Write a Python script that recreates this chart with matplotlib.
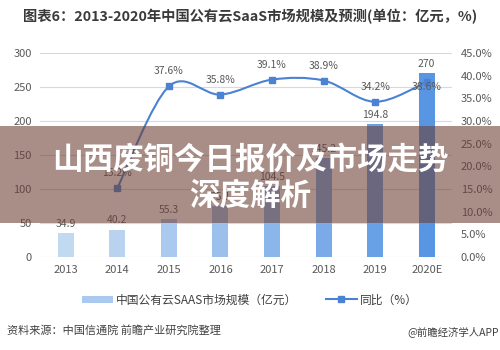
import matplotlib
matplotlib.use("Agg")
import matplotlib.pyplot as plt
from matplotlib.patches import Rectangle, PathPatch
from matplotlib.path import Path
from matplotlib.lines import Line2D
from matplotlib.patches import Patch

plt.rcParams['font.family'] = ['Noto Sans CJK SC', 'DejaVu Sans']

years = ["2013", "2014", "2015", "2016", "2017", "2018", "2019", "2020E"]
market_size = [34.9, 40.2, 55.3, 75.1, 104.5, 145.2, 194.8, 270]
growth_years = [1, 2, 3, 4, 5, 6, 7]
growth = [15.2, 37.6, 35.8, 39.1, 38.9, 34.2, 38.6]
bar_colors = ["#c2d9f2", "#b8d2f0", "#a9c9ee", "#9bc0ec", "#8bb6ea",
              "#7aabe8", "#69a1e6", "#5896e3"]

line_color = "#4b82d2"
tick_color = "#595959"

fig = plt.figure(figsize=(5, 3.5), dpi=100)
ax = fig.add_axes([0.08, 0.266, 0.825, 0.583])
ax2 = ax.twinx()

x = list(range(len(years)))
ax.bar(x, market_size, width=0.31, color=bar_colors, zorder=2)
for xi, v in zip(x, market_size):
    ax.text(xi, v + 6, f"{v:g}", ha="center", va="bottom", fontsize=7.5,
            color=tick_color, zorder=3)

ax.set_ylim(0, 300)
ax.set_yticks(range(0, 301, 50))
ax.set_xlim(-0.5, 7.5)
ax.set_xticks(x)
ax.set_xticklabels(years)
ax.yaxis.grid(True, color="#d9d9d9", linewidth=0.8, zorder=0)
ax.set_axisbelow(True)
for s in ax.spines.values():
    s.set_visible(False)
for s in ax2.spines.values():
    s.set_visible(False)
ax.tick_params(length=0, labelsize=8, colors=tick_color, pad=6)

ax2.set_ylim(0, 45)
ax2.set_yticks(range(0, 46, 5))
ax2.set_yticklabels([f"{v:.1f}%" for v in range(0, 46, 5)])
ax2.tick_params(length=0, labelsize=8, colors=tick_color, pad=6)

# smooth growth line drawn as bezier path through the data points
pts = list(zip(growth_years, growth))
verts = [pts[0]]
codes = [Path.MOVETO]
t = 1 / 6
for i in range(len(pts) - 1):
    p0 = pts[i - 1] if i > 0 else pts[i]
    p1 = pts[i]
    p2 = pts[i + 1]
    p3 = pts[i + 2] if i + 2 < len(pts) else pts[i + 1]
    c1 = (p1[0] + (p2[0] - p0[0]) * t, p1[1] + (p2[1] - p0[1]) * t)
    c2 = (p2[0] - (p3[0] - p1[0]) * t, p2[1] - (p3[1] - p1[1]) * t)
    verts += [c1, c2, p2]
    codes += [Path.CURVE4] * 3
ax2.add_patch(PathPatch(Path(verts, codes), facecolor="none",
                        edgecolor=line_color, linewidth=1.5, zorder=4))
ax2.plot(growth_years, growth, linestyle="none", marker="s", markersize=5,
         color=line_color, zorder=5)
for xi, v in zip(growth_years, growth):
    if xi == growth_years[-1]:
        ax2.text(xi, v - 1.2, f"{v:.1f}%", ha="center", va="center",
                 fontsize=7.5, color=tick_color, zorder=6)
    else:
        ax2.text(xi, v + 2.2, f"{v:.1f}%", ha="center", va="bottom",
                 fontsize=7.5, color=tick_color, zorder=6)

fig.text(0.5, 0.952, "图表6：2013-2020年中国公有云SaaS市场规模及预测(单位：亿元，%)",
         ha="center", va="center", fontsize=10.3, fontweight="bold", color="#3a3a3a")

handles = [Patch(facecolor="#a9c9ee"),
           Line2D([0], [0], color=line_color, marker="s", markersize=5, linewidth=1.5)]
fig.legend(handles, ["中国公有云SAAS市场规模（亿元）", "同比（%）"],
           loc="center", bbox_to_anchor=(0.5, 0.143), ncol=2, frameon=False,
           fontsize=8.5, labelcolor="#404040", handlelength=2.6,
           handleheight=0.6, columnspacing=2.4, handletextpad=0.3)

fig.text(0.014, 0.055, "资料来源：中国信通院 前瞻产业研究院整理", ha="left",
         va="center", fontsize=8, color="#404040")
fig.text(0.997, 0.052, "@前瞻经济学人APP", ha="right", va="center",
         fontsize=7.5, color="#404040")

# overlay banner
fig.add_artist(Rectangle((0, 1 - 223 / 350), 1, 97 / 350, transform=fig.transFigure,
                         facecolor=(0.42, 0.24, 0.2), alpha=0.58, edgecolor="none",
                         zorder=10))
fig.text(0.5, 1 - 160 / 350, "山西废铜今日报价及市场走势", ha="center", va="center",
         fontsize=22, fontweight="bold", color="white", zorder=11)
fig.text(0.5, 1 - 196 / 350, "深度解析", ha="center", va="center",
         fontsize=22, fontweight="bold", color="white", zorder=11)

fig.savefig("out.png", dpi=100)
